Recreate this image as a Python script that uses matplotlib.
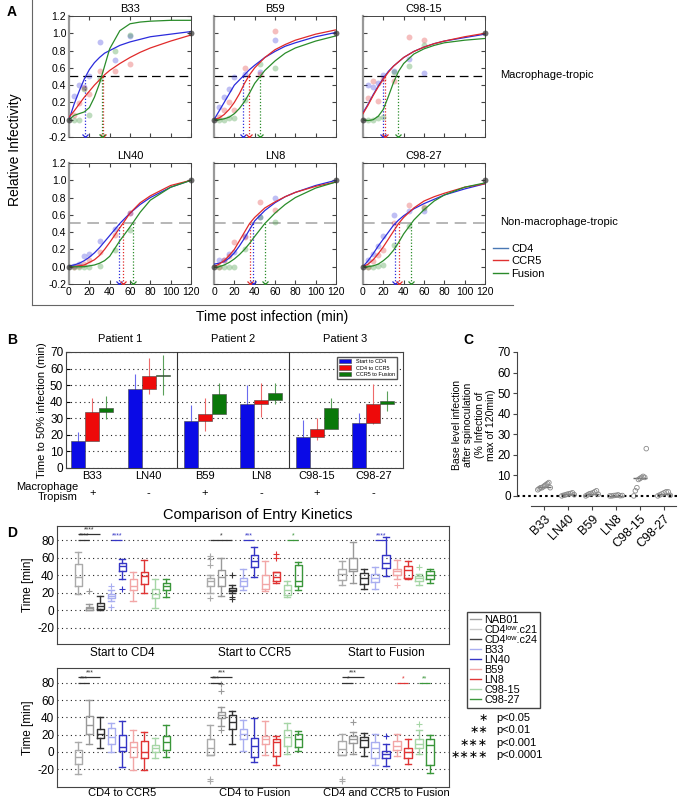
import numpy as np
import matplotlib
matplotlib.use('Agg')
import matplotlib.pyplot as plt
import matplotlib.transforms as mtransforms
from matplotlib.lines import Line2D
from matplotlib.patches import Patch

plt.rcParams['font.family'] = ['Liberation Sans', 'DejaVu Sans']
plt.rcParams['axes.unicode_minus'] = False

# ---------------- data: panel A (relative infectivity kinetics) ----------------
a_names = [['B33', 'B59', 'C98-15'], ['LN40', 'LN8', 'C98-27']]
fit_t = [0, 5, 10, 15, 20, 25, 30, 35, 40, 50, 60, 70, 80, 100, 120]
fit_cd4 = {
    'B33': [0.0, 0.18, 0.33, 0.47, 0.58, 0.66, 0.72, 0.77, 0.80, 0.86, 0.90, 0.93, 0.96, 0.99, 1.02],
    'B59': [0.0, 0.10, 0.20, 0.30, 0.40, 0.46, 0.52, 0.58, 0.63, 0.72, 0.79, 0.85, 0.89, 0.96, 1.01],
    'C98-15': [0.08, 0.18, 0.29, 0.39, 0.48, 0.56, 0.62, 0.67, 0.72, 0.79, 0.84, 0.88, 0.91, 0.95, 0.99],
    'LN40': [0.01, 0.02, 0.04, 0.07, 0.11, 0.16, 0.22, 0.29, 0.36, 0.50, 0.62, 0.72, 0.80, 0.92, 1.0],
    'LN8': [0.03, 0.04, 0.06, 0.10, 0.16, 0.24, 0.33, 0.43, 0.53, 0.65, 0.74, 0.81, 0.86, 0.94, 1.0],
    'C98-27': [0.0, 0.07, 0.15, 0.24, 0.32, 0.40, 0.48, 0.54, 0.59, 0.67, 0.73, 0.78, 0.83, 0.90, 0.96],
}
fit_ccr5 = {
    'B33': [0.03, 0.10, 0.18, 0.26, 0.33, 0.40, 0.46, 0.52, 0.57, 0.65, 0.72, 0.78, 0.83, 0.91, 0.98],
    'B59': [0.0, 0.02, 0.06, 0.12, 0.20, 0.30, 0.42, 0.52, 0.60, 0.72, 0.81, 0.87, 0.92, 0.99, 1.04],
    'C98-15': [0.07, 0.17, 0.28, 0.38, 0.47, 0.55, 0.62, 0.67, 0.72, 0.79, 0.84, 0.88, 0.91, 0.96, 1.0],
    'LN40': [0.0, 0.0, 0.01, 0.02, 0.05, 0.08, 0.13, 0.20, 0.28, 0.45, 0.62, 0.74, 0.82, 0.94, 1.0],
    'LN8': [0.0, 0.03, 0.07, 0.13, 0.20, 0.30, 0.40, 0.50, 0.57, 0.68, 0.75, 0.81, 0.86, 0.93, 0.98],
    'C98-27': [0.0, 0.03, 0.08, 0.15, 0.23, 0.32, 0.41, 0.50, 0.57, 0.68, 0.76, 0.81, 0.85, 0.92, 0.96],
}
fit_fusion = {
    'B33': [0.0, 0.05, 0.07, 0.09, 0.14, 0.26, 0.42, 0.62, 0.82, 1.03, 1.11, 1.13, 1.14, 1.15, 1.15],
    'B59': [0.0, 0.0, 0.01, 0.03, 0.07, 0.13, 0.21, 0.31, 0.42, 0.57, 0.68, 0.77, 0.83, 0.91, 0.97],
    'C98-15': [0.0, -0.01, 0.0, 0.04, 0.12, 0.27, 0.43, 0.56, 0.65, 0.76, 0.82, 0.86, 0.89, 0.92, 0.94],
    'LN40': [0.0, 0.0, 0.0, 0.0, 0.01, 0.02, 0.04, 0.07, 0.12, 0.30, 0.46, 0.63, 0.77, 0.92, 1.0],
    'LN8': [-0.01, 0.0, 0.02, 0.05, 0.09, 0.14, 0.20, 0.27, 0.35, 0.50, 0.62, 0.72, 0.80, 0.91, 0.98],
    'C98-27': [0.0, 0.0, 0.01, 0.03, 0.07, 0.12, 0.19, 0.28, 0.38, 0.54, 0.66, 0.76, 0.83, 0.92, 0.97],
}
pt_t = [5, 10, 15, 20, 30, 45, 60]
pts_cd4 = {
    'B33': [0.28, 0.40, 0.38, 0.50, 0.90, 0.69, 0.97],
    'B59': [0.15, 0.26, 0.35, 0.49, 0.53, 0.55, 0.92],
    'C98-15': [0.40, 0.38, 0.42, 0.52, 0.56, 0.70, 0.54],
    'LN40': [0.01, 0.03, 0.12, 0.15, 0.30, 0.44, 0.62],
    'LN8': [0.08, 0.08, 0.15, 0.17, 0.35, 0.58, 0.80],
    'C98-27': [0.08, 0.15, 0.24, 0.36, 0.60, 0.65, 0.65],
}
pts_ccr5 = {
    'B33': [0.05, 0.19, 0.37, 0.30, 0.56, 0.56, 0.64],
    'B59': [0.03, 0.11, 0.20, 0.11, 0.60, 0.53, 1.03],
    'C98-15': [0.25, 0.45, 0.22, 0.47, 0.45, 0.96, 0.92],
    'LN40': [0.0, 0.01, 0.03, 0.08, 0.17, 0.37, 0.62],
    'LN8': [0.0, 0.08, 0.12, 0.29, 0.34, 0.75, 0.66],
    'C98-27': [0.0, 0.07, 0.13, 0.19, 0.50, 0.71, 0.69],
}
pts_fusion = {
    'B33': [0.0, 0.0, 0.36, 0.06, 0.47, 0.80, 0.98],
    'B59': [0.0, 0.0, 0.02, 0.02, 0.23, 0.64, 0.60],
    'C98-15': [0.0, 0.0, 0.02, 0.03, 0.55, 0.62, 0.86],
    'LN40': [0.0, 0.0, 0.0, 0.0, 0.01, 0.19, 0.43],
    'LN8': [0.0, 0.0, 0.0, 0.0, 0.20, 0.57, 0.52],
    'C98-27': [0.0, 0.0, 0.01, 0.02, 0.25, 0.47, 0.68],
}
t50_cd4 = {'B33': 16, 'B59': 28.5, 'C98-15': 20, 'LN40': 49.5, 'LN8': 38.5, 'C98-27': 31.5}
t50_ccr5 = {'B33': 33, 'B59': 34, 'C98-15': 22, 'LN40': 53.5, 'LN8': 35, 'C98-27': 35}
t50_fusion = {'B33': 32, 'B59': 45, 'C98-15': 34, 'LN40': 63, 'LN8': 50, 'C98-27': 47.5}

# ---------------- data: panel B (time to 50% infection) ----------------
b_groups = ['B33', 'LN40', 'B59', 'LN8', 'C98-15', 'C98-27']
b_tropism = ['+', '-', '+', '-', '+', '-']
b_patients = ['Patient 1', 'Patient 2', 'Patient 3']
b_cd4 = [16, 47.5, 28.5, 38.5, 19, 27]
b_ccr5 = [34, 55.5, 32.5, 41, 23.5, 38.5]
b_fusion = [36.5, 56, 44.5, 45, 36, 40.5]
b_cd4_err = [6, 9, 9.5, 11.5, 10, 6]
b_ccr5_err = [8, 11, 10, 10.5, 6.5, 12]
b_fusion_err = [7, 12, 7, 6.5, 6, 6]

# ---------------- data: panel C (base level infection) ----------------
c_groups = ['B33', 'LN40', 'B59', 'LN8', 'C98-15', 'C98-27']
c_values = [
    [3, 3.5, 4, 4, 4.5, 5, 5.5, 6, 6.5, 4],
    [0, 0.3, 0.5, 0.8, 1, 1.2, 1.5, 0.6],
    [0, 0.5, 1, 1.2, 1.5, 2, 2.5, 0.8],
    [0, 0, 0.2, 0.3, 0.5, 0.1, 0.2],
    [0, 2.5, 4, 8, 8.5, 9, 9.5, 9, 23],
    [0, 0.5, 1, 1.5, 2, 2, 0.3],
]

# ---------------- data: panel D (entry kinetics box plots) ----------------
d_strains = ['NAB01', 'CD4\u02e1\u1d52\u02b7.c21', 'CD4\u02e1\u1d52\u02b7.c24', 'B33', 'LN40',
             'B59', 'LN8', 'C98-15', 'C98-27']
d_top_labels = ['Start to CD4', 'Start to CCR5', 'Start to Fusion']
d_bot_labels = ['CD4 to CCR5', 'CD4 to Fusion', 'CD4 and CCR5 to Fusion']
# (whisker low, q1, median, q3, whisker high)
d_top_stats = [
    [(18, 27, 38, 53, 66), (0, 0.5, 2, 4, 7), (0, 1, 5, 8.5, 16.5), (10.5, 13.5, 16, 19, 23),
     (35, 45, 50, 54, 58), (10, 23, 27, 36, 44), (20, 30, 39, 44, 57), (3, 14, 19, 24, 36),
     (15.5, 23, 27, 30.5, 35.5)],
    [(20, 28, 33, 37, 40), (16, 27, 38, 45.5, 60), (20, 21.5, 23, 25, 29), (22.5, 28, 33, 37, 47.5),
     (38, 49, 56, 63, 72), (22, 24.5, 30, 40, 56), (31, 33, 38, 43, 44), (15.5, 17.5, 23, 29, 33),
     (23, 27, 33, 52, 55)],
    [(29, 34, 41, 47, 56), (31, 44.5, 47.5, 60, 78), (24, 30, 36.5, 42.5, 47.5), (24, 32, 36.5, 41, 49),
     (38.5, 48, 54, 63, 83), (36, 40.5, 44.5, 47.5, 57), (35, 37, 46, 50, 56), (28.5, 33, 36.5, 39.5, 41),
     (31, 36, 40.5, 45, 46.5)],
]
d_top_fliers = [
    [[], [22], [], [28, 4], [24], [], [], [], []],
    [[62, 58, 52, 14], [], [40.5, 15, 12.5], [], [], [], [64, 59], [], []],
    [[], [], [], [], [], [29], [], [49], []],
]
d_bot_stats = [
    [(-25.5, -14, -5.5, 2, 11), (9, 20.5, 31, 41.5, 60), (4, 16, 20.5, 27, 40), (-0.5, 9.5, 17.5, 28, 34),
     (-17, 1, 6, 19.5, 36), (-20.5, -6, 6, 12, 25.5), (-20.5, -7, 0, 13, 22.5), (-7.5, 0, 4, 8, 16),
     (-5.5, 2.5, 11, 18, 31)],
    [(-3.5, -3, 4, 14.5, 31), (30, 39, 42.5, 46.5, 52), (9.5, 27, 35, 42.5, 47.5), (1, 15.5, 20.5, 27, 37),
     (-11.5, -6, 6.5, 16, 39.5), (-3.5, 9.5, 15.5, 19, 36), (-15, -4.5, 12, 14.5, 19), (-2, 7, 17.5, 25, 34),
     (1, 6, 14.5, 20.5, 24)],
    [(-3.5, -3, 3, 12.5, 20.5), (-2, 10, 15.5, 19, 23), (-4.5, 6, 14, 17.5, 21.5), (-15, -7, 4, 11, 20.5),
     (-16, -7, -2.5, 1, 9.5), (-4.5, 2, 7, 12.5, 20.5), (-14, -6.5, 0, 5, 15.5), (-2, 5, 9.5, 14.5, 25),
     (-24, -15, 8, 14.5, 19.5)],
]
d_bot_fliers = [
    [[], [], [], [], [], [], [], [], []],
    [[-31, -33], [78, 70, 25], [], [], [], [], [], [], []],
    [[-31, -33], [35], [], [], [18.5], [], [], [32.5], []],
]
# (group, box i, box j, stars, level, colour index)
d_top_sig = [(0, 0, 2, '****', 1, 2), (0, 0, 1, '****', 0, 2), (0, 3, 4, '****', 0, 4),
             (1, 0, 2, '*', 0, 2), (1, 3, 4, '***', 0, 4), (1, 7, 8, '*', 0, 8), (2, 3, 4, '****', 0, 4)]
d_bot_sig = [(0, 0, 2, '***', 1, 2), (0, 0, 1, '***', 0, 2), (1, 0, 2, '***', 1, 2), (1, 0, 1, '***', 0, 2),
             (2, 0, 2, '***', 1, 2), (2, 0, 1, '*', 0, 2), (2, 5, 6, '*', 0, 6), (2, 7, 8, '**', 0, 8)]
p_stars = ['\u2217', '\u2217\u2217', '\u2217\u2217\u2217', '\u2217\u2217\u2217\u2217']
p_texts = ['p<0.05', 'p<0.01', 'p<0.001', 'p<0.0001']

# ---------------- figure ----------------
W, H = 679, 800
fig = plt.figure(figsize=(W / 100, H / 100), dpi=100)


def add_ax(x0, y0, x1, y1):
    return fig.add_axes([x0 / W, 1 - y1 / H, (x1 - x0) / W, (y1 - y0) / H])


def fx(x):
    return x / W


def fy(y):
    return 1 - y / H


# panel letters
for letter, (x, y) in zip('ABCD', [(7, 12), (7, 340), (463, 340), (7, 533)]):
    fig.text(fx(x), fy(y), letter, fontsize=10, fontweight='bold', ha='left', va='center')

# ---------------- panel A ----------------
a_cols = ['#2b2bdc', '#e02a2a', '#2a8c2a']
cols_x = [(69, 191), (214, 336), (363, 485)]
rows_y = [(16, 137), (163, 284)]
fig.add_artist(Line2D([fx(32), fx(32)], [fy(0), fy(305)], color='#666666', lw=0.8))
fig.add_artist(Line2D([fx(32), fx(513)], [fy(305), fy(305)], color='#666666', lw=0.8))

for r, row in enumerate(a_names):
    for c, name in enumerate(row):
        ax = add_ax(cols_x[c][0], rows_y[r][0], cols_x[c][1], rows_y[r][1])
        ax.set_xlim(0, 120)
        ax.set_ylim(-0.2, 1.2)
        hcol = 'k' if r == 0 else '#aaaaaa'
        ax.axhline(0.5, color=hcol, ls=(0, (7, 4)), lw=0.9 if r == 0 else 1.2, zorder=1)
        for k, (fits, pts, t50s) in enumerate([(fit_cd4, pts_cd4, t50_cd4),
                                                (fit_ccr5, pts_ccr5, t50_ccr5),
                                                (fit_fusion, pts_fusion, t50_fusion)]):
            ax.scatter(pt_t, pts[name], s=18, color=a_cols[k], alpha=0.3, lw=0, zorder=2, clip_on=False)
            ax.plot(fit_t, fits[name], color=a_cols[k], lw=0.9, zorder=3)
            t = t50s[name]
            ax.plot([t, t], [-0.2, 0.5], ls=(0, (1, 1.5)), color=a_cols[k], lw=0.9, zorder=2)
            ax.plot([t], [-0.2], marker='x', ms=5, mew=0.9, color=a_cols[k], zorder=4)
        ax.scatter([0, 120], [0, 1], s=18, color='#333333', alpha=0.7, lw=0, zorder=4, clip_on=False)
        ax.set_title(name, fontsize=8, pad=3)
        ax.set_xticks(range(0, 121, 20))
        ax.set_yticks(np.arange(-0.2, 1.21, 0.2))
        ax.set_yticklabels(['%.1f' % v for v in np.arange(-0.2, 1.21, 0.2)])
        ax.tick_params(direction='in', top=True, right=True, length=3, labelsize=7.5, pad=2,
                       color='#444444', labelleft=(c == 0), labelbottom=(r == 1))
        for s in ax.spines.values():
            s.set_color('#444444')
            s.set_linewidth(0.7)
        ax.spines['left'].set_color('#999999')
        ax.spines['left'].set_linewidth(1.6)

fig.text(fx(15), fy(150), 'Relative Infectivity', rotation=90, fontsize=10, ha='center', va='center')
fig.text(fx(272), fy(317), 'Time post infection (min)', fontsize=10, ha='center', va='center')
fig.text(fx(500), fy(75), 'Macrophage-tropic', fontsize=8, ha='left', va='center')
fig.text(fx(500), fy(222), 'Non-macrophage-tropic', fontsize=8, ha='left', va='center')
fig.legend([Line2D([], [], color='#4a78b4', lw=1), Line2D([], [], color='#e03030', lw=1),
            Line2D([], [], color='#2a8a2a', lw=1)], ['CD4', 'CCR5', 'Fusion'],
           loc='upper left', bbox_to_anchor=(fx(487), fy(238)), frameon=False, fontsize=8,
           handlelength=1.4, handletextpad=0.3, labelspacing=0.25, borderpad=0)

# ---------------- panel B ----------------
b_cols = ['#0a0ae6', '#ee0a0a', '#0a780a']
b_ecols = ['#6a6aee', '#ee6a6a', '#5aa05a']
axB = add_ax(66, 352, 403, 468)
x = np.arange(len(b_groups))
bottoms = [np.zeros(len(b_groups)), np.array(b_cd4), np.array(b_ccr5)]
tops = [np.array(b_cd4), np.array(b_ccr5), np.array(b_fusion)]
errs = [b_cd4_err, b_ccr5_err, b_fusion_err]
for k in range(3):
    xs = x + (k - 1) * 0.25
    axB.errorbar(xs, tops[k], yerr=errs[k], fmt='none', ecolor=b_ecols[k], elinewidth=0.8,
                 capsize=0, zorder=2)
    axB.bar(xs, tops[k] - bottoms[k], bottom=bottoms[k], width=0.25, color=b_cols[k],
            edgecolor='#444444', lw=0.4, zorder=3)
axB.set_xlim(-0.47, 5.53)
axB.set_ylim(0, 70)
axB.set_yticks(range(0, 71, 10))
axB.yaxis.grid(True, ls=(0, (1, 3)), color='#222222', lw=0.8)
axB.set_axisbelow(True)
for sep in (1.5, 3.5):
    axB.axvline(sep, color='#333333', lw=0.8, zorder=4)
axB.set_xticks(x)
axB.set_xticklabels(b_groups, fontsize=8)
axB.tick_params(axis='x', length=0, pad=2)
axB.tick_params(axis='y', direction='in', length=3, labelsize=8.5, pad=2)
axB.set_ylabel('Time to 50% infection (min)', fontsize=8, labelpad=2)
for i, p in enumerate(b_patients):
    axB.text(2 * i + 0.5, 77.8, p, ha='center', va='center', fontsize=8)
for s in axB.spines.values():
    s.set_color('#444444')
    s.set_linewidth(0.8)
axB.legend([Patch(facecolor=b_cols[0], edgecolor='#444444', lw=0.4),
            Patch(facecolor=b_cols[1], edgecolor='#444444', lw=0.4),
            Patch(facecolor=b_cols[2], edgecolor='#444444', lw=0.4)],
           ['Start to CD4', 'CD4 to CCR5', 'CCR5 to Fusion'], loc='upper right', fontsize=4,
           handlelength=2.2, handleheight=0.8, labelspacing=0.3, borderpad=0.4, fancybox=False,
           edgecolor='#555555', framealpha=1, bbox_to_anchor=(0.99, 0.985))
trB = mtransforms.blended_transform_factory(axB.transData, fig.transFigure)
fig.text(fx(78), fy(492), 'Macrophage\nTropism', ha='right', va='center', fontsize=8,
         multialignment='right', linespacing=1.1)
for i, t in enumerate(b_tropism):
    axB.text(i, fy(493), t, transform=trB, ha='center', va='center', fontsize=8)

# ---------------- panel C ----------------
axC = add_ax(517, 352, 677, 506)
axC.set_xlim(-1.125, 5.54)
axC.set_ylim(-4.9, 70)
axC.axhline(0, ls=(0, (1.2, 1.5)), color='k', lw=1.5, zorder=1)
for i, vals in enumerate(c_values):
    offs = np.linspace(-0.26, 0.26, len(vals))
    axC.scatter(i + offs, vals, s=11, facecolors='none', edgecolors='#8a8a8a', lw=0.6, zorder=3)
    axC.hlines(np.median(vals), i - 0.3, i + 0.3, color='#6a6a6a', lw=1, zorder=2)
axC.spines['top'].set_visible(False)
axC.spines['right'].set_visible(False)
axC.spines['left'].set_bounds(0, 70)
axC.spines['bottom'].set_bounds(-0.55, 5.5)
for s in ('left', 'bottom'):
    axC.spines[s].set_color('#444444')
    axC.spines[s].set_linewidth(0.8)
axC.set_yticks(range(0, 71, 10))
axC.set_xticks(range(len(c_groups)))
axC.set_xticklabels(c_groups, rotation=45, ha='right', rotation_mode='anchor', fontsize=9)
axC.tick_params(axis='both', direction='out', length=3, labelsize=8.5, pad=1.5, color='#444444')
axC.tick_params(axis='x', labelsize=9, pad=2)
fig.text(fx(474), fy(425), 'Base level infection\nafter spinoculation\n(% Infection of\nmax of 120min)',
         rotation=90, ha='center', va='center', fontsize=7.5, multialignment='center', linespacing=1.15)

# ---------------- panel D ----------------
d_cols = ['#aaaaaa', '#999999', '#333333', '#a9aef0', '#3535c5', '#f2a6a6', '#e03535', '#a6d6a6', '#3a963a']
fig.text(fx(258), fy(515), 'Comparison of Entry Kinetics', fontsize=10.5, ha='center', va='center')


def draw_boxes(ax, stats, fliers, sigs, labels, ylim):
    ax.set_xlim(-1.95, 33.7)
    ax.set_ylim(*ylim)
    for g in range(3):
        for k in range(9):
            lo, q1, med, q3, hi = stats[g][k]
            st = dict(whislo=lo, q1=q1, med=med, q3=q3, whishi=hi, fliers=fliers[g][k])
            c = d_cols[k]
            ax.bxp([st], positions=[g * 12 + k], widths=0.7, capwidths=0.55, manage_ticks=False,
                   boxprops=dict(color=c, lw=1), whiskerprops=dict(color=c, lw=1),
                   capprops=dict(color=c, lw=1), medianprops=dict(color=c, lw=1),
                   flierprops=dict(marker='+', markeredgecolor=c, markersize=4, mew=0.8))
    for g, i, j, stars, level, ci in sigs:
        yl = 80 + 6.5 * level
        ax.plot([g * 12 + i, g * 12 + j], [yl, yl], color=d_cols[ci], lw=0.9, solid_capstyle='butt')
        ax.text(g * 12 + (i + j) / 2, yl + 0.5, stars, color=d_cols[ci], fontsize=5,
                ha='center', va='bottom')
    ax.set_yticks(range(-20, 81, 20))
    ax.yaxis.grid(True, ls=(0, (1, 3)), color='#222222', lw=0.8)
    ax.set_axisbelow(True)
    ax.set_xticks([4, 16, 28])
    ax.set_xticklabels(labels, fontsize=8.5)
    ax.tick_params(axis='both', length=0, labelsize=8.5, pad=2)
    ax.set_ylabel('Time [min]', fontsize=8.5, labelpad=2)
    for s in ax.spines.values():
        s.set_color('#444444')
        s.set_linewidth(0.8)


axD1 = add_ax(57, 526, 449, 644)
draw_boxes(axD1, d_top_stats, d_top_fliers, d_top_sig, d_top_labels, (-38.6, 96))
axD2 = add_ax(57, 668, 449, 787)
draw_boxes(axD2, d_bot_stats, d_bot_fliers, d_bot_sig, d_bot_labels, (-40.5, 97))
axD2.tick_params(axis='x', pad=0.5, labelsize=8)

fig.legend([Line2D([], [], color=c, lw=1) for c in ['#a0a0a0', '#cccccc', '#444444'] + d_cols[3:]],
           d_strains, loc='upper left', bbox_to_anchor=(fx(462), fy(607)), fontsize=7.8,
           handlelength=1.0, handletextpad=0.3, labelspacing=0.0, borderpad=0.25,
           fancybox=False, edgecolor='#444444', framealpha=1)
for i, (st, pt) in enumerate(zip(p_stars, p_texts)):
    fig.text(fx(488), fy(718 + 12.3 * i), st, ha='right', va='center', fontsize=8)
    fig.text(fx(496), fy(718 + 12.3 * i), pt, ha='left', va='center', fontsize=8)

fig.savefig('out.png', dpi=100)
